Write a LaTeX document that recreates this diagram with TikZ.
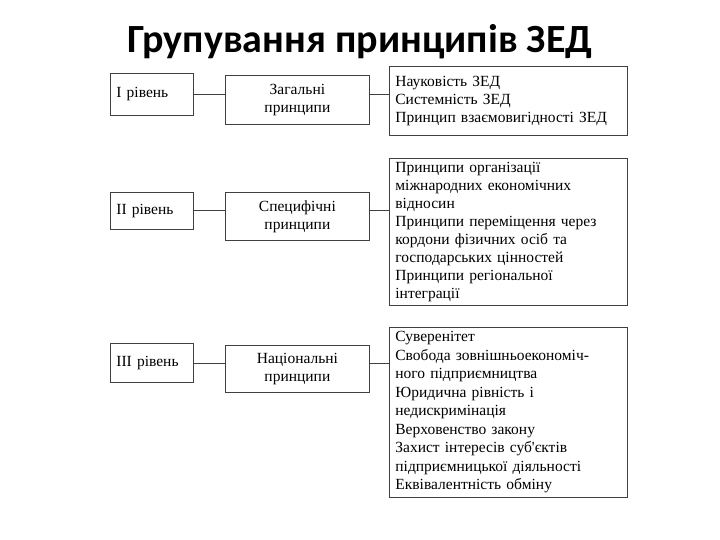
\documentclass[tikz,border=0pt]{standalone}
\usepackage{fontspec}
\setmainfont{Liberation Serif}
\newfontfamily\titlefont{Carlito}
\usetikzlibrary{positioning}

\begin{document}
\begin{tikzpicture}[x=1pt, y=-1pt,
    box/.style={draw=black!75, line width=.8pt, anchor=north west, inner sep=0pt,
        font=\fontsize{15.5}{18}\selectfont},
    levelbox/.style={box, minimum width=83pt, text width=71pt, align=left},
    groupbox/.style={box, minimum width=144pt, minimum height=48pt, align=center},
    listbox/.style={box, text width=226pt, inner xsep=6pt, align=left},
    link/.style={draw=black!75, line width=.8pt}]
    \useasboundingbox (0,0) rectangle (720,540);

    \node[font=\titlefont\bfseries\fontsize{40}{46}\selectfont] (title) at (360,42)
        {Групування принципів ЗЕД};

    % levels
    \node[levelbox, minimum height=42pt] (lvlA) at (110,73) {І рівень};
    \node[levelbox, minimum height=37pt] (lvlB) at (110,192) {ІІ рівень};
    \node[levelbox, minimum height=39pt] (lvlC) at (110,343) {ІІІ рівень};

    % groups of principles
    \node[groupbox, minimum height=49pt] (grpA) at (225,75) {Загальні\\принципи};
    \node[groupbox] (grpB) at (225,192) {Специфічні\\принципи};
    \node[groupbox, minimum height=47pt] (grpC) at (225,345) {Національні\\принципи};

    % lists
    \node[listbox, minimum height=69pt] (lstA) at (389,66)
        {Науковість ЗЕД\\Системність ЗЕД\\Принцип взаємовигідності ЗЕД};
    \node[listbox, minimum height=147pt] (lstB) at (389,158)
        {Принципи організації\\міжнародних економічних\\відносин\\
         Принципи переміщення через\\кордони фізичних осіб та\\
         господарських цінностей\\Принципи регіональної\\інтеграції};
    \node[listbox, minimum height=170pt, font=\fontsize{15.5}{18.5}\selectfont] (lstC) at (389,327)
        {Суверенітет\\Свобода зовнішньоекономіч-\\ного підприємництва\\
         Юридична рівність і\\недискримінація\\Верховенство закону\\
         Захист інтересів суб\textquotesingle єктів\\підприємницької діяльності\\
         Еквівалентність обміну};

    \foreach \r in {A,B,C} {
        \draw[link] (lvl\r.east) -- (grp\r.west |- lvl\r.east);
        \draw[link] (grp\r.east |- lvl\r.east) -- (lst\r.west |- lvl\r.east);
    }
\end{tikzpicture}
\end{document}
